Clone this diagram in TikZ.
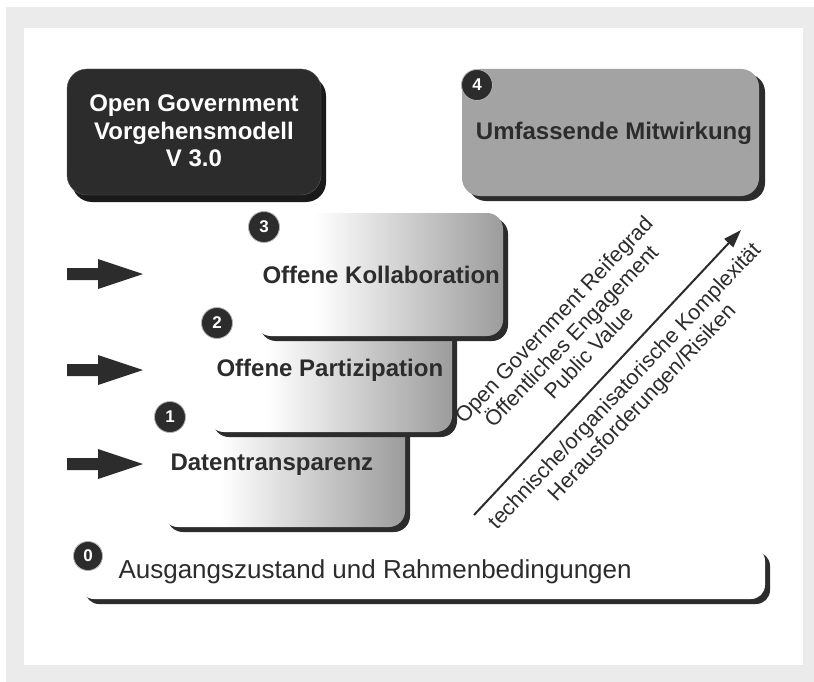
\documentclass[tikz,border=0pt]{standalone}
\usepackage{fontspec}
\setmainfont{Liberation Sans}
\usetikzlibrary{arrows.meta}
\definecolor{frame}{HTML}{EBEBEB}
\definecolor{ink}{HTML}{2C2C2C}
\definecolor{deep}{HTML}{1A1A1A}
\definecolor{fadegray}{HTML}{9C9C9C}
\definecolor{midgray}{HTML}{A3A3A3}
\pgfdeclarehorizontalshading{stepfade}{100bp}{color(0bp)=(white); color(37bp)=(white); color(75bp)=(fadegray); color(100bp)=(fadegray)}

\begin{document}
\begin{tikzpicture}[x=1pt, y=-1pt,
	badge/.style={circle, fill=ink, draw=gray!60, line width=0.8pt, minimum size=31pt, inner sep=0pt, text=white, font=\bfseries\fontsize{17}{17}\selectfont},
	boxtext/.style={font=\bfseries\fontsize{24}{27.5}\selectfont, align=center, text=ink},
	slant/.style={rotate=46.5, align=center, font=\fontsize{21.5}{24}\selectfont, text=ink}]
	\useasboundingbox (0,0) rectangle (814,682);
	\fill[frame] (6,7) rectangle (814,682);
	\fill[white] (24,28) rectangle (803,665);

	\fill[deep, rounded corners=20pt] (72,76) rectangle (326,202);
	\filldraw[fill=ink, draw=gray!70!black, rounded corners=20pt] (67,69) rectangle (321,195);
	\fill[ink, rounded corners=18pt] (468,74) rectangle (765,201);
	\fill[midgray, rounded corners=18pt] (462,69) rectangle (759,196);

	\fill[ink, rounded corners=14pt] (85,552) rectangle (770,604);
	\fill[white, rounded corners=14pt] (80,547) rectangle (765,599);

	\fill[ink, rounded corners=16pt] (167,408) rectangle (410,532);
	\shade[shading=stepfade, rounded corners=16pt] (162,403) rectangle (405,527);
	\fill[ink, rounded corners=16pt] (213,315) rectangle (457,437);
	\shade[shading=stepfade, rounded corners=16pt] (208,310) rectangle (452,432);
	\fill[ink, rounded corners=16pt] (260,218) rectangle (508,341);
	\shade[shading=stepfade, rounded corners=16pt] (255,213) rectangle (503,336);

	\foreach \y in {274,370,464}
		\fill[ink] (67,\y-6) -- (98,\y-6) -- (98,\y-15) -- (143,\y) -- (98,\y+15) -- (98,\y+6) -- (67,\y+6) -- cycle;

	\node[boxtext, text=white] (model) at (194,131) {Open Government\\Vorgehensmodell\\V 3.0};
	\node[boxtext] (mitwirkung) at (614,133) {Umfassende Mitwirkung};
	\node[boxtext, anchor=west] (kollab) at (259,275) {Offene Kollaboration};
	\node[boxtext, anchor=west] (partizip) at (213,370) {Offene Partizipation};
	\node[boxtext, anchor=west] (transparenz) at (167,465) {Datentransparenz};
	\node[font=\fontsize{26}{28}\selectfont, text=ink, anchor=west] (basis) at (115,572) {Ausgangszustand und Rahmenbedingungen};

	\node[badge] (b4) at (477,85) {4};
	\node[badge] (b3) at (264,227) {3};
	\node[badge] (b2) at (217,323) {2};
	\node[badge] (b1) at (170,417) {1};
	\node[badge, minimum size=29pt] (b0) at (88,556) {0};

	\coordinate (lo) at (474,515);
	\coordinate (hi) at (741,230);
	\draw[ink, line width=2pt, -{Triangle[length=18pt, width=12pt]}] (lo) -- (hi);
	\node[slant] (reife) at (571,336) {Open Government Reifegrad\\Öffentliches Engagement\\Public Value};
	\node[slant] (risiko) at (634,395) {technische/organisatorische Komplexität\\Herausforderungen/Risiken};
\end{tikzpicture}
\end{document}
